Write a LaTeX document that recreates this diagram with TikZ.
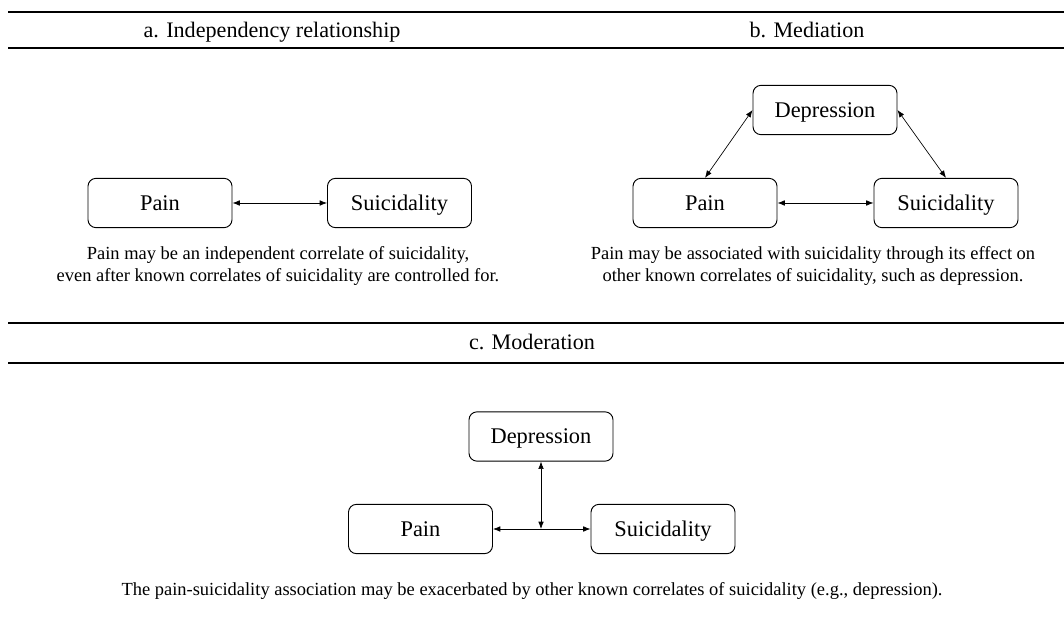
\documentclass[tikz,border=0pt]{standalone}
\usepackage{fontspec}
\setmainfont{Liberation Serif}
\usetikzlibrary{arrows.meta}
\begin{document}
\begin{tikzpicture}[x=0.75pt,y=-0.75pt,
  box/.style={draw,rounded corners=6pt,line width=0.7pt,minimum width=108pt,minimum height=37pt,inner sep=0pt,font=\fontsize{16.8}{20}\selectfont,text height=11.1pt,text depth=0pt},
  head/.style={anchor=base,font=\fontsize{16.6}{20}\selectfont},
  captxt/.style={font=\fontsize{13.85}{16.5}\selectfont,align=center},
  rule/.style={line width=0.9pt},
  link/.style={line width=0.5pt,{Latex[length=5.5pt,width=4.2pt]}-{Latex[length=5.5pt,width=4.2pt]}}]
\useasboundingbox (0,0) rectangle (1064,623);
% rules
\coordinate (r1a) at (8,12); \coordinate (r1b) at (1064,12);
\coordinate (r2a) at (8,48); \coordinate (r2b) at (1064,48);
\coordinate (r3a) at (8,323); \coordinate (r3b) at (1064,323);
\coordinate (r4a) at (8,363); \coordinate (r4b) at (1064,363);
\draw[rule] (r1a) -- (r1b);
\draw[rule] (r2a) -- (r2b);
\draw[rule] (r3a) -- (r3b);
\draw[rule] (r4a) -- (r4b);
% headings
\node[head] (ha) at (272,38) {a. Independency relationship};
\node[head] (hb) at (807,38) {b. Mediation};
\node[head] (hc) at (532,350) {c. Moderation};
% panel a
\node[box] (pa) at (160,203) {Pain};
\node[box] (sa) at (399.5,203) {Suicidality};
\draw[link] (pa) -- (sa);
\node[captxt] (ca) at (278,266) {Pain may be an independent correlate of suicidality,\\even after known correlates of suicidality are controlled for.};
% panel b
\node[box] (db) at (825,110) {Depression};
\node[box] (pb) at (705,203) {Pain};
\node[box] (sb) at (946,203) {Suicidality};
\draw[link] (pb) -- (sb);
\draw[link] (db.west) -- (pb.north);
\draw[link] (db.east) -- (sb.north);
\node[captxt] (cb) at (813,266) {Pain may be associated with suicidality through its effect on\\other known correlates of suicidality, such as depression.};
% panel c
\node[box] (dc) at (541,436.5) {Depression};
\node[box] (pc) at (420.5,529) {Pain};
\node[box] (sc) at (663,529) {Suicidality};
\draw[link] (pc) -- (sc);
\coordinate (mc) at (dc.south |- pc.east);
\draw[link] (dc.south) -- (mc);
\node[captxt] (cc) at (532,591) {The pain-suicidality association may be exacerbated by other known correlates of suicidality (e.g., depression).};
\end{tikzpicture}
\end{document}
